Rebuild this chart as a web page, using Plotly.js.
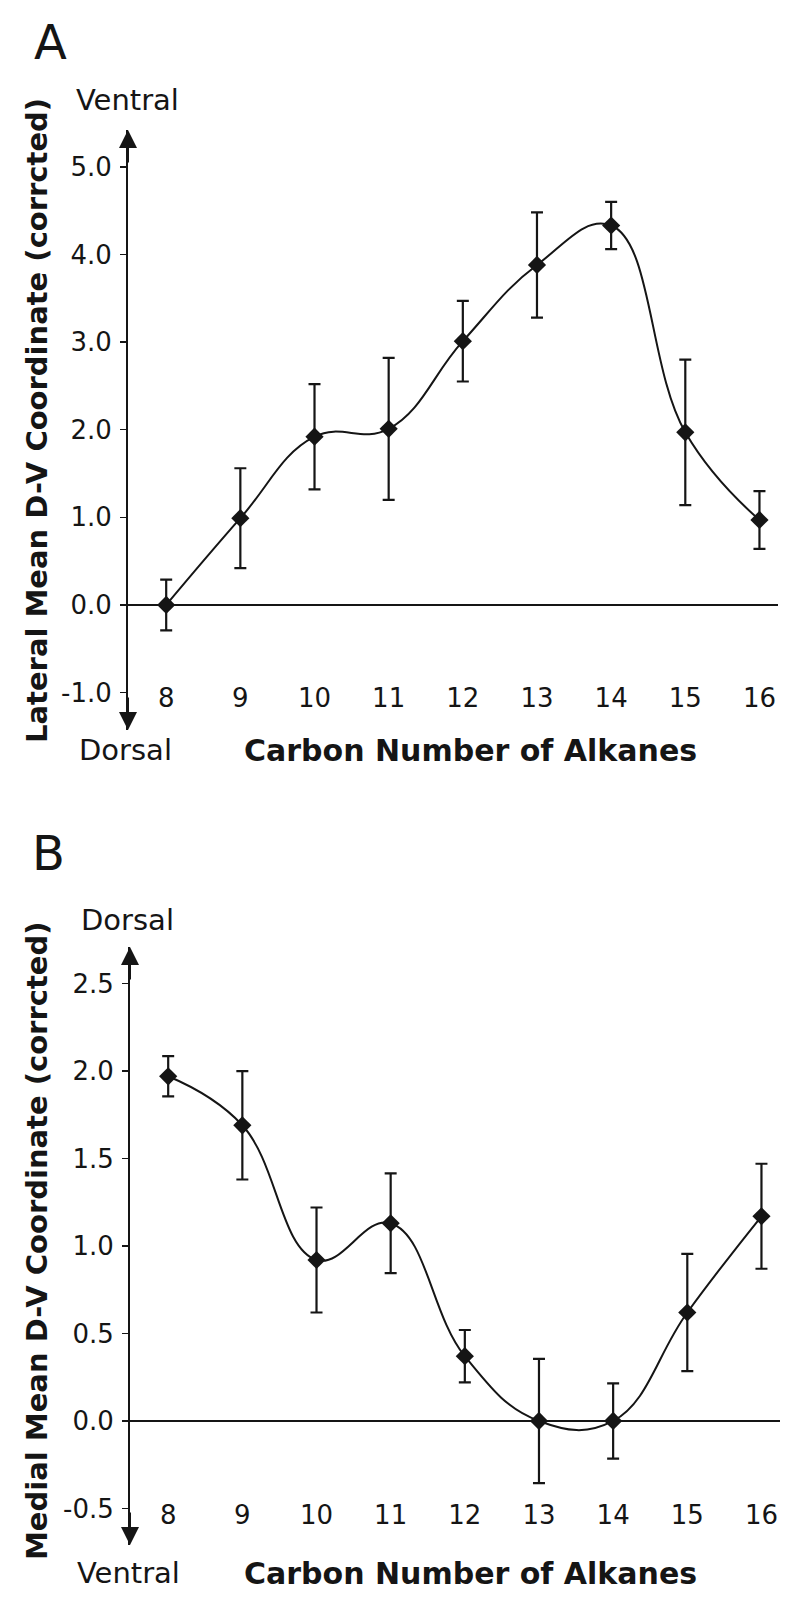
<!DOCTYPE html>
<html>
<head>
<meta charset="utf-8">
<script src="https://cdn.plot.ly/plotly-3.0.1.min.js"></script>
<style>
  html, body { margin: 0; padding: 0; background: #fff; }
  #chart { width: 800px; height: 1611px; }
</style>
</head>
<body>
<div id="chart"></div>
<script>
// carbon number of the alkanes (x categories)
var carbon = [8, 9, 10, 11, 12, 13, 14, 15, 16];
var carbonText = ['8', '9', '10', '11', '12', '13', '14', '15', '16'];

// panel A: lateral mean D-V coordinate
var lateralMean = [0.0, 0.99, 1.92, 2.01, 3.01, 3.88, 4.33, 1.97, 0.97];
var lateralErr = [0.29, 0.57, 0.6, 0.81, 0.46, 0.6, 0.27, 0.83, 0.33];

// panel B: medial mean D-V coordinate
var medialMean = [1.97, 1.69, 0.92, 1.13, 0.37, 0.0, 0.0, 0.62, 1.17];
var medialErr = [0.115, 0.31, 0.3, 0.285, 0.15, 0.355, 0.215, 0.335, 0.3];

var yTicksA = [-1, 0, 1, 2, 3, 4, 5];
var yTickTextA = ['-1.0', '0.0', '1.0', '2.0', '3.0', '4.0', '5.0'];
var yTicksB = [-0.5, 0, 0.5, 1, 1.5, 2, 2.5];
var yTickTextB = ['-0.5', '0.0', '0.5', '1.0', '1.5', '2.0', '2.5'];

var W = 800, H = 1611;
function fx(px) { return px / W; }
function fy(px) { return 1 - px / H; }

var ink = '#151515';
var fam = 'DejaVu Sans, Arial, sans-serif';

function series(y, err, xa, ya) {
  return {
    x: carbon, y: y,
    xaxis: xa, yaxis: ya,
    type: 'scatter',
    mode: 'lines+markers',
    line: {shape: 'spline', smoothing: 1.2, color: ink, width: 2},
    marker: {symbol: 'diamond', size: 14, color: ink},
    error_y: {type: 'data', array: err, visible: true, color: ink, thickness: 2.2, width: 6},
    cliponaxis: false,
    showlegend: false
  };
}

var data = [
  series(lateralMean, lateralErr, 'x', 'y'),
  series(medialMean, medialErr, 'x2', 'y2')
];

function xAxis(domain, pos) {
  return {
    domain: domain,
    range: [7.485, 16.25],
    anchor: 'free',
    position: pos,
    tickvals: carbon,
    ticktext: carbonText,
    showgrid: false, zeroline: false, showline: false,
    ticks: '',
    tickfont: {family: fam, size: 26, color: ink},
    fixedrange: true
  };
}

function yAxis(domain, anchor, range, vals, text) {
  return {
    domain: domain,
    anchor: anchor,
    range: range,
    tickvals: vals,
    ticktext: text,
    showgrid: false,
    zeroline: true, zerolinecolor: ink, zerolinewidth: 2.5,
    showline: true, linecolor: ink, linewidth: 2,
    ticks: 'outside', ticklen: 6, tickwidth: 1.5, tickcolor: ink,
    ticklabelstandoff: 3,
    tickfont: {family: fam, size: 26, color: ink},
    fixedrange: true
  };
}

function label(text, x, y, size, bold, angle) {
  return {
    text: text, xref: 'paper', yref: 'paper',
    x: fx(x), y: fy(y), xanchor: 'center', yanchor: 'middle',
    showarrow: false, textangle: angle || 0,
    font: {family: fam, size: size, color: ink, weight: bold ? 'bold' : 'normal'}
  };
}

// arrowheads on the ends of the vertical axis
function arrowTip(x, y, dy) {
  return {
    text: '', xref: 'paper', yref: 'paper',
    x: fx(x), y: fy(y), ax: 0, ay: dy,
    showarrow: true, arrowhead: 2, arrowsize: 1.8, arrowwidth: 2,
    arrowcolor: ink, standoff: 0
  };
}

var layout = {
  width: W, height: H,
  margin: {l: 0, r: 0, t: 0, b: 0},
  paper_bgcolor: '#fff', plot_bgcolor: '#fff',
  xaxis: xAxis([fx(128), fx(778)], fy(680)),
  yaxis: yAxis([fy(730), fy(130)], 'x', [-1.427, 5.42], yTicksA, yTickTextA),
  xaxis2: xAxis([fx(130), fx(780)], fy(1497)),
  yaxis2: yAxis([fy(1545), fy(947)], 'x2', [-0.709, 2.709], yTicksB, yTickTextB),
  annotations: [
    label('A', 50, 42, 48, false),
    label('Ventral', 127, 100, 29, false),
    label('Dorsal', 125, 750, 29, false),
    label('Carbon Number of Alkanes', 470, 750, 30, true),
    label('Lateral Mean D-V Coordinate (corrcted)', 37, 421, 29, true, -90),
    arrowTip(128, 130, 34),
    arrowTip(128, 730, -34),

    label('B', 48, 853, 48, false),
    label('Dorsal', 127, 920, 29, false),
    label('Ventral', 128, 1573, 29, false),
    label('Carbon Number of Alkanes', 470, 1573, 30, true),
    label('Medial Mean D-V Coordinate (corrcted)', 37, 1241, 29, true, -90),
    arrowTip(130, 947, 34),
    arrowTip(130, 1545, -34)
  ]
};

Plotly.newPlot('chart', data, layout, {staticPlot: true, displayModeBar: false});
</script>
</body>
</html>
